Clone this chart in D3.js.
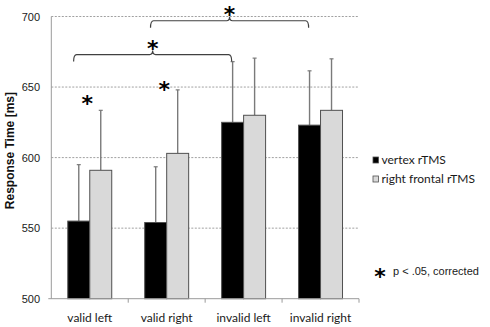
<!DOCTYPE html>
<html><head><meta charset="utf-8">
<script src="https://cdn.jsdelivr.net/npm/d3@7"></script>
<style>body{margin:0;background:#fff}svg{display:block}</style>
</head><body>
<script>
const categories = ["valid left", "valid right", "invalid left", "invalid right"];
const seriesNames = ["vertex rTMS", "right frontal rTMS"];
const vertexMeans = [555, 554, 625, 623];
const vertexErr = [40, 39.5, 43, 38.5];
const frontalMeans = [591, 603, 630, 633.5];
const frontalErr = [42.5, 45, 40.5, 36.5];
const yTicks = [500, 550, 600, 650, 700];
const seriesColors = ["#000000", "#d9d9d9"];
// significance annotations (data units)
const brackets = [{from: "valid left", to: "invalid left", level: 673}, {from: "valid right", to: "invalid right", level: 697}];
const groupStars = [{cat: "valid left", level: 642}, {cat: "valid right", level: 652}];

const W = 490, H = 327;
const m = {left: 51.3, top: 16.5, right: 131, bottom: 28.3};
const svg = d3.select("body").append("svg").attr("width", W).attr("height", H);
const x = d3.scaleBand().domain(categories).range([m.left, W - m.right]).padding(0);
const bw = x.bandwidth();
const barW = bw * 0.2857;
const xs = d3.scaleBand().domain(seriesNames).range([(bw - 2 * barW) / 2, (bw + 2 * barW) / 2]);
const y = d3.scaleLinear().domain([500, 700]).range([H - m.bottom, m.top]);

// gridlines
svg.append("g").selectAll("line").data(yTicks.slice(1)).join("line")
  .attr("x1", m.left).attr("x2", W - m.right)
  .attr("y1", d => y(d)).attr("y2", d => y(d))
  .attr("stroke", "#a0a0a0").attr("stroke-width", 1).attr("stroke-dasharray", "2,1.5");

// y tick labels
svg.append("g").selectAll("text").data(yTicks).join("text")
  .attr("x", 40).attr("y", d => y(d) + 4).attr("text-anchor", "end")
  .attr("font-family", "Liberation Sans, Arial, sans-serif").attr("font-size", 11).attr("fill", "#1a1a1a")
  .text(d => d);

// y axis title
svg.append("text").attr("transform", `translate(13.5,${(y(500)+y(700))/2 - 7}) rotate(-90)`)
  .attr("text-anchor", "middle").attr("font-family", "Liberation Sans, Arial, sans-serif")
  .attr("font-size", 12).attr("font-weight", "bold").attr("fill", "#111").text("Response Time [ms]");

// bars
const series = [
  {name: seriesNames[0], means: vertexMeans, err: vertexErr, color: seriesColors[0]},
  {name: seriesNames[1], means: frontalMeans, err: frontalErr, color: seriesColors[1]}
];
series.forEach(s => {
  const g = svg.append("g");
  const data = categories.map((c, i) => ({c, v: s.means[i], e: s.err[i]}));
  // error bars (upper only)
  g.selectAll("line.err").data(data).join("line").attr("class", "err")
    .attr("x1", d => x(d.c) + xs(s.name) + barW / 2).attr("x2", d => x(d.c) + xs(s.name) + barW / 2)
    .attr("y1", d => y(d.v)).attr("y2", d => y(d.v + d.e))
    .attr("stroke", "#7a7a7a").attr("stroke-width", 1.4);
  g.selectAll("line.cap").data(data).join("line").attr("class", "cap")
    .attr("x1", d => x(d.c) + xs(s.name) + barW / 2 - 2).attr("x2", d => x(d.c) + xs(s.name) + barW / 2 + 2)
    .attr("y1", d => y(d.v + d.e)).attr("y2", d => y(d.v + d.e))
    .attr("stroke", "#7a7a7a").attr("stroke-width", 1.2);
  g.selectAll("rect").data(data).join("rect")
    .attr("x", d => x(d.c) + xs(s.name)).attr("width", barW)
    .attr("y", d => y(d.v)).attr("height", d => y(500) - y(d.v))
    .attr("fill", s.color).attr("stroke", "#505050").attr("stroke-width", 1);
});

// axes lines
svg.append("line").attr("x1", m.left).attr("x2", m.left).attr("y1", y(700)).attr("y2", y(500))
  .attr("stroke", "#9a9a9a").attr("stroke-width", 1);
svg.append("line").attr("x1", m.left - 3).attr("x2", W - m.right).attr("y1", y(500)).attr("y2", y(500))
  .attr("stroke", "#9a9a9a").attr("stroke-width", 1);
const bounds = categories.map(c => x(c) + bw);
svg.append("g").selectAll("line").data(bounds).join("line")
  .attr("x1", d => d).attr("x2", d => d).attr("y1", y(500)).attr("y2", y(500) + 4)
  .attr("stroke", "#9a9a9a").attr("stroke-width", 1);

// x labels
svg.append("g").selectAll("text").data(categories).join("text")
  .attr("x", d => x(d) + bw / 2).attr("y", 322).attr("text-anchor", "middle")
  .attr("font-family", "Lato, sans-serif").attr("font-size", 12).attr("fill", "#1a1a1a").text(d => d);

// brackets
const starFS = 22;
function star(cx, cy, fs) {
  svg.append("text").attr("x", cx).attr("y", cy + 0.575 * fs).attr("text-anchor", "middle")
    .attr("font-family", "DejaVu Sans, sans-serif").attr("font-weight", "bold")
    .attr("font-size", fs).attr("fill", "#000").text("*");
}
brackets.forEach(b => {
  const x1 = x(b.from) + bw * 0.29, x2 = x(b.to) + bw * 0.345, yb = y(b.level), mid = (x1 + x2) / 2;
  const p = d3.path();
  p.moveTo(x1, yb + 7);
  p.quadraticCurveTo(x1, yb, x1 + 3, yb);
  p.lineTo(mid - 3, yb);
  p.quadraticCurveTo(mid, yb, mid, yb - 4);
  p.quadraticCurveTo(mid, yb, mid + 3, yb);
  p.lineTo(x2 - 3, yb);
  p.quadraticCurveTo(x2, yb, x2, yb + 7);
  svg.append("path").attr("d", p.toString()).attr("fill", "none").attr("stroke", "#404040").attr("stroke-width", 1.2);
  star(mid, yb - 11.5, starFS);
});
groupStars.forEach(s => star(x(s.cat) + bw / 2 - 2.5, y(s.level), starFS));

// legend
const lg = svg.append("g");
seriesNames.forEach((n, i) => {
  const ly = 160 + i * 19;
  lg.append("rect").attr("x", 373).attr("y", ly - 3).attr("width", 5.5).attr("height", 6)
    .attr("fill", seriesColors[i]).attr("stroke", "#505050").attr("stroke-width", 0.8);
  lg.append("text").attr("x", 381.5).attr("y", ly + 4).attr("font-family", "Lato, sans-serif")
    .attr("font-size", 12).attr("fill", "#1a1a1a").text(n);
});
star(380, 271, starFS);
svg.append("text").attr("x", 393).attr("y", 274.5).attr("font-family", "Liberation Sans, Arial, sans-serif")
  .attr("font-size", 11).attr("fill", "#1a1a1a").text("p < .05, corrected");
</script>
</body></html>
